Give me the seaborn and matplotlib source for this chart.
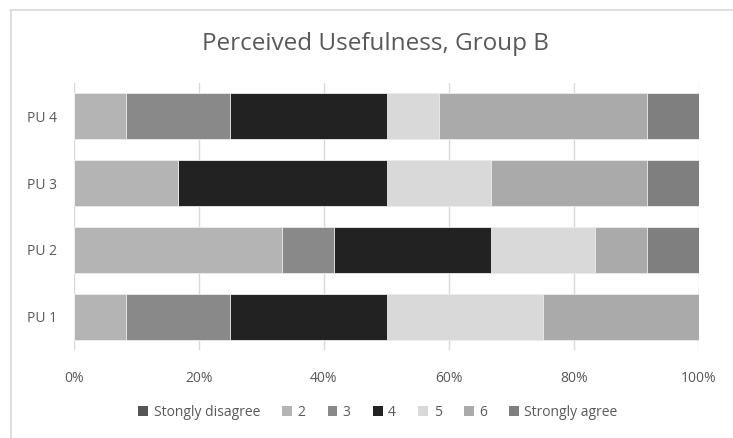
import numpy as np
import pandas as pd
import matplotlib
matplotlib.use("Agg")
import matplotlib.pyplot as plt
from matplotlib.patches import Patch
from matplotlib.lines import Line2D
import seaborn as sns

# Response shares (%) per item, one list per answer level
items = ["PU 4", "PU 3", "PU 2", "PU 1"]
levels = ["Stongly disagree", "2", "3", "4", "5", "6", "Strongly agree"]
strongly_disagree = [0.0, 0.0, 0.0, 0.0]
level_2 = [8.33, 16.67, 33.33, 8.33]
level_3 = [16.67, 0.0, 8.33, 16.67]
level_4 = [25.0, 33.33, 25.0, 25.0]
level_5 = [8.33, 16.67, 16.67, 25.0]
level_6 = [33.33, 25.0, 8.33, 25.0]
strongly_agree = [8.33, 8.33, 8.33, 0.0]
x_ticks = [0, 20, 40, 60, 80, 100]

colors = ["#555555", "#b4b4b4", "#898989", "#222222", "#d9d9d9", "#aaaaaa", "#7f7f7f"]

series = [strongly_disagree, level_2, level_3, level_4, level_5, level_6, strongly_agree]
df = pd.DataFrame({lvl: vals for lvl, vals in zip(levels, series)}, index=items)
cum = df.cumsum(axis=1)

sns.set_theme(style="white")
plt.rcParams["font.family"] = ["Open Sans", "DejaVu Sans"]
text_color = "#595959"

fig = plt.figure(figsize=(7.33, 4.38), dpi=100)
ax = fig.add_axes([74 / 733, 1 - 350 / 438, 625 / 733, 267 / 438])

# Stacked bars: draw cumulative totals from the last level back to the first
for lvl, col in reversed(list(zip(levels, colors))):
    plot_df = pd.DataFrame({"item": items, "value": cum[lvl].values})
    sns.barplot(data=plot_df, x="value", y="item", order=items, orient="h",
                color=col, width=0.69, edgecolor="#eeeeee", linewidth=0.6,
                saturation=1, ax=ax, zorder=3)

ax.set_xlim(0, 100)
ax.set_ylim(3.5, -0.5)
ax.set_xticks(x_ticks)
ax.set_xticklabels([f"{t}%" for t in x_ticks])
ax.set_xlabel("")
ax.set_ylabel("")
ax.tick_params(axis="both", length=0, labelsize=10, colors=text_color)
ax.tick_params(axis="x", pad=15)
ax.tick_params(axis="y", pad=12)
ax.xaxis.grid(True, color="#d9d9d9", linewidth=1, zorder=0)
ax.yaxis.grid(False)
ax.set_axisbelow(True)
for s in ax.spines.values():
    s.set_visible(False)

fig.text(375 / 733, 1 - 44 / 438, "Perceived Usefulness, Group B",
         ha="center", va="center", fontsize=17.5, color=text_color)

handles = [Patch(facecolor=c, edgecolor="none") for c in colors]
fig.legend(handles, levels, loc="center", bbox_to_anchor=(378 / 733, 1 - 412 / 438),
           ncol=7, frameon=False, fontsize=10, labelcolor=text_color,
           handlelength=0.7, handleheight=0.7, handletextpad=0.4, columnspacing=1.6)

# Chart frame (top and left edges)
fig.add_artist(Line2D([10 / 733, 1], [1 - 10 / 438, 1 - 10 / 438], color="#d9d9d9", linewidth=1.2))
fig.add_artist(Line2D([10.5 / 733, 10.5 / 733], [0, 1 - 10 / 438], color="#d9d9d9", linewidth=1.2))

fig.savefig("out.png", dpi=100, facecolor="white")
